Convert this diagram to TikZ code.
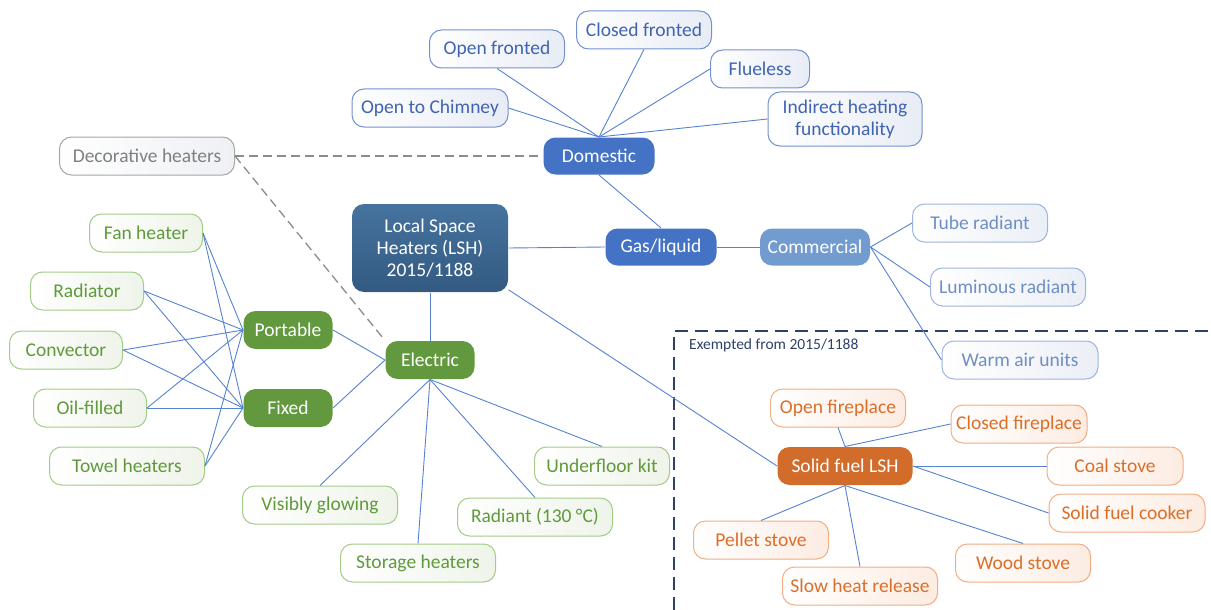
\documentclass[tikz,border=0pt]{standalone}
\usepackage{fontspec}
\setmainfont{Carlito}
\definecolor{bsubB}{HTML}{7391D1}
\definecolor{bsubT}{HTML}{3F64B0}
\definecolor{bsubF}{HTML}{E8ECF5}
\definecolor{csubB}{HTML}{9DB5DE}
\definecolor{csubT}{HTML}{6F8FC4}
\definecolor{csubF}{HTML}{EBEFF6}
\definecolor{gsubB}{HTML}{A3CC89}
\definecolor{gsubT}{HTML}{5F9A3B}
\definecolor{gsubF}{HTML}{EFF4EA}
\definecolor{osubB}{HTML}{F2AD84}
\definecolor{osubT}{HTML}{DB6F2A}
\definecolor{osubF}{HTML}{FCECE2}
\definecolor{dsubB}{HTML}{A6A6A6}
\definecolor{dsubT}{HTML}{808080}
\definecolor{dsubF}{HTML}{EEF0F4}
\definecolor{domC}{HTML}{4472C4}
\definecolor{comC}{HTML}{729BD0}
\definecolor{lshT}{HTML}{46739F}
\definecolor{lshB}{HTML}{335A81}
\definecolor{grnC}{HTML}{62993E}
\definecolor{orgC}{HTML}{D16C2A}
\definecolor{linkC}{HTML}{5582D3}
\definecolor{navyC}{HTML}{2E4168}
\definecolor{dashC}{HTML}{8C8C8C}
\begin{document}
\begin{tikzpicture}[x=1pt,y=-1pt,
  base/.style={rounded corners=12pt, minimum height=38pt, inner sep=0pt,
    font=\fontsize{19.5}{22}\selectfont, line width=1pt, align=center},
  bsub/.style={base, draw=bsubB, text=bsubT, left color=white, right color=bsubF},
  csub/.style={base, draw=csubB, text=csubT, left color=white, right color=csubF},
  gsub/.style={base, draw=gsubB, text=gsubT, left color=white, right color=gsubF},
  osub/.style={base, draw=osubB, text=osubT, left color=white, right color=osubF},
  dsub/.style={base, draw=dsubB, text=dsubT, left color=white, right color=dsubF},
  mainnode/.style={base, text=white},
  link/.style={draw=linkC, line width=0.9pt},
  dlink/.style={draw=dashC, line width=1.3pt, dash pattern=on 9pt off 5pt},
]
\useasboundingbox (0,0) rectangle (1211,610);

% exempted region
\draw[navyC, line width=1.6pt, dash pattern=on 13pt off 7pt] (674,610) -- (674,331) -- (1211,331);
\node[anchor=west, text=navyC, font=\fontsize{15.5}{18}\selectfont, inner sep=0pt] (exlab) at (689,345) {Exempted from 2015/1188};

% main nodes
\node[mainnode, top color=lshT, bottom color=lshB, minimum width=156pt, minimum height=88pt] (lsh) at (430,248) {Local Space\\Heaters (LSH)\\2015/1188};
\node[mainnode, fill=domC, minimum width=111pt, minimum height=37pt] (dom) at (599,156) {Domestic};
\node[mainnode, fill=domC, minimum width=111pt, minimum height=37pt] (gas) at (661,247) {Gas/liquid};
\node[mainnode, fill=comC, minimum width=110pt, minimum height=37pt] (com) at (815,247) {Commercial};
\node[mainnode, fill=grnC, minimum width=89pt] (elec) at (430,360) {Electric};
\node[mainnode, fill=grnC, minimum width=89pt] (port) at (288,330) {Portable};
\node[mainnode, fill=grnC, minimum width=89pt] (fix) at (288,408) {Fixed};
\node[mainnode, fill=orgC, minimum width=135pt] (sol) at (845,466) {Solid fuel LSH};

% domestic subnodes
\node[bsub, minimum width=135pt] (of) at (497,49) {Open fronted};
\node[bsub, minimum width=135pt] (cf) at (644,30) {Closed fronted};
\node[bsub, minimum width=99pt] (fl) at (760,69) {Flueless};
\node[bsub, minimum width=154pt, minimum height=54pt] (ind) at (845,119) {Indirect heating\\functionality};
\node[bsub, minimum width=156pt] (oc) at (430,108) {Open to Chimney};

% decorative
\node[dsub, minimum width=175pt] (dec) at (147,156) {Decorative heaters};

% commercial subnodes
\node[csub, minimum width=135pt] (tube) at (980,223) {Tube radiant};
\node[csub, minimum width=155pt] (lum) at (1008,287) {Luminous radiant};
\node[csub, minimum width=156pt] (warm) at (1020,360) {Warm air units};

% electric subnodes
\node[gsub, minimum width=113pt] (fan) at (146,233) {Fan heater};
\node[gsub, minimum width=113pt] (rad) at (87,291) {Radiator};
\node[gsub, minimum width=113pt] (conv) at (66,350) {Convector};
\node[gsub, minimum width=113pt] (oil) at (90,408) {Oil-filled};
\node[gsub, minimum width=155pt] (towel) at (127,466) {Towel heaters};
\node[gsub, minimum width=155pt] (vis) at (320,505) {Visibly glowing};
\node[gsub, minimum width=155pt] (stor) at (418,563) {Storage heaters};
\node[gsub, minimum width=155pt] (radi) at (535,517) {Radiant (130 °C)};
\node[gsub, minimum width=135pt] (uf) at (602,466) {Underfloor kit};

% solid fuel subnodes
\node[osub, minimum width=135pt] (ofp) at (838,408) {Open fireplace};
\node[osub, minimum width=136pt] (cfp) at (1019,424) {Closed fireplace};
\node[osub, minimum width=136pt] (coal) at (1115,466) {Coal stove};
\node[osub, minimum width=156pt] (cook) at (1127,513) {Solid fuel cooker};
\node[osub, minimum width=135pt] (wood) at (1023,563) {Wood stove};
\node[osub, minimum width=135pt] (pel) at (761,540) {Pellet stove};
\node[osub, minimum width=155pt] (slow) at (860,586) {Slow heat release};

% connectors: domestic
\draw[link] (dom.north) -- (oc.east);
\draw[link] (dom.north) -- (of.south);
\draw[link] (dom.north) -- (cf.south);
\draw[link] (dom.north) -- (fl.west);
\draw[link] (dom.north) -- (ind.west);
\draw[link] (dom.south) -- (gas.north);
\draw[link] (lsh.east) -- (gas.west);
\draw[link] (gas.east) -- (com.west);
\draw[link] (com.east) -- (tube.west);
\draw[link] (com.east) -- (lum.west);
\draw[link] (com.east) -- (warm.west);
\draw[link] (lsh.south) -- (elec.north);
\draw[link] (lsh.-28) -- (sol.west);

% decorative dashed
\draw[dlink] (dec.east) -- (dom.west);
\draw[dlink] (dec.east) -- (elec.north west);

% electric
\draw[link] (elec.west) -- (port.east);
\draw[link] (elec.west) -- (fix.east);
\draw[link] (elec.south) -- (vis.north);
\draw[link] (elec.south) -- (stor.north);
\draw[link] (elec.south) -- (radi.north);
\draw[link] (elec.south) -- (uf.north);
\foreach \s in {fan,rad,conv,oil,towel}{
  \draw[link] (\s.east) -- (port.west);
  \draw[link] (\s.east) -- (fix.west);
}

% solid fuel
\draw[link] (sol.north) -- (ofp.south);
\draw[link] (sol.north) -- (cfp.west);
\draw[link] (sol.east) -- (coal.west);
\draw[link] (sol.east) -- (cook.west);
\draw[link] (sol.south) -- (pel.north);
\draw[link] (sol.south) -- (slow.north);
\draw[link] (sol.south) -- (wood.north);
\end{tikzpicture}
\end{document}
